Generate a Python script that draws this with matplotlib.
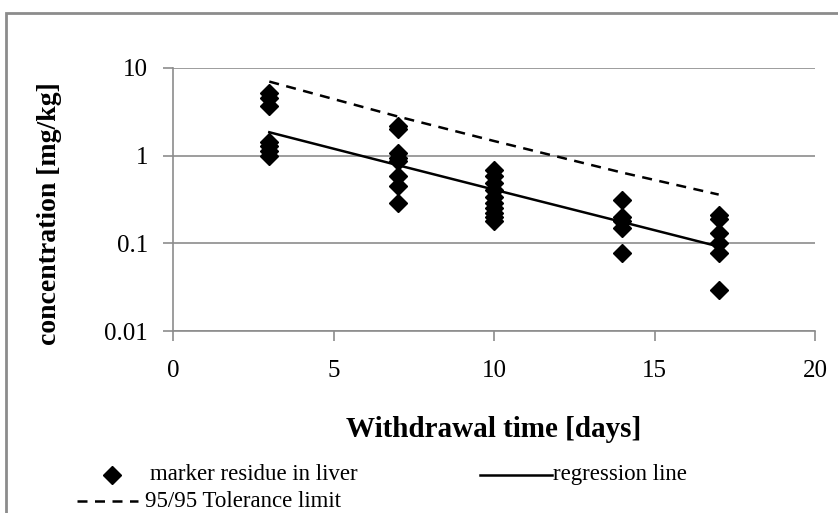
import matplotlib.pyplot as plt
from matplotlib.lines import Line2D
from matplotlib.patches import Rectangle

plt.rcParams["font.family"] = ["Liberation Serif", "DejaVu Serif"]

# measured residues (withdrawal day, concentration mg/kg)
days_3 = [5.2, 4.6, 3.7, 1.45, 1.28, 1.12, 0.98]
days_7 = [2.2, 2.0, 1.07, 0.95, 0.86, 0.58, 0.45, 0.29]
days_10 = [0.68, 0.58, 0.49, 0.41, 0.34, 0.29, 0.25, 0.22, 0.2, 0.18]
days_14 = [0.31, 0.2, 0.18, 0.15, 0.078]
days_17 = [0.21, 0.19, 0.13, 0.1, 0.078, 0.029]

line_days = [3, 7, 10, 14, 17]
regression = [1.85, 0.78, 0.41, 0.175, 0.092]
tolerance = [7.0, 2.8, 1.47, 0.64, 0.36]

GREY = "#8c8c8c"
W, H = 838, 513


def fx(px):
    return px / W


def fy(py):
    return 1 - py / H


fig = plt.figure(figsize=(W / 100, H / 100), dpi=100)
ax = fig.add_axes([fx(173), fy(331), (815 - 173) / W, (331 - 68) / H])

# scatter
xs, ys = [], []
for d, vals in zip(line_days, [days_3, days_7, days_10, days_14, days_17]):
    xs += [d] * len(vals)
    ys += vals
ax.plot(xs, ys, linestyle="none", marker="D", markersize=9.5, color="black", zorder=3)

ax.plot(line_days, regression, color="black", linewidth=1.8, zorder=4)
ax.plot(line_days, tolerance, color="black", linewidth=1.8, dashes=(4, 3), zorder=4)

ax.set_yscale("log")
ax.set_ylim(0.01, 10)
ax.set_xlim(0, 20)
ax.set_xticks([0, 5, 10, 15, 20])
ax.set_yticks([0.01, 0.1, 1, 10])
ax.set_yticklabels(["0.01", "0.1", "1", "10"])
ax.minorticks_off()
ax.yaxis.grid(True, color=GREY, linewidth=1.2)
ax.set_axisbelow(True)

for s in ["top", "right"]:
    ax.spines[s].set_visible(False)
for s in ["left", "bottom"]:
    ax.spines[s].set_color(GREY)
    ax.spines[s].set_linewidth(1.2)
ax.tick_params(axis="both", colors=GREY, length=7, width=1.2, labelcolor="black",
               labelsize=18)
ax.tick_params(axis="x", pad=14)
ax.tick_params(axis="y", pad=11)

# axis titles
fig.text(fx(50), fy(214), "concentration [mg/kg]", fontsize=20, fontweight="bold",
         rotation=90, ha="center", va="center")
fig.text(fx(494), fy(437), "Withdrawal time [days]", fontsize=21, fontweight="bold",
         ha="center", va="baseline")

# outer frame of the original chart area
fig.add_artist(Rectangle((fx(6), -0.1), 1.2, 0.1 + fy(13), transform=fig.transFigure,
                         fill=False, edgecolor=GREY, linewidth=2))

# legend drawn by hand
fig.add_artist(Line2D([fx(112)], [fy(475)], marker="D", markersize=9, color="black",
                      transform=fig.transFigure))
fig.text(fx(150), fy(480), "marker residue in liver", fontsize=16.5, va="baseline")
fig.add_artist(Line2D([fx(480), fx(552)], [fy(475), fy(475)], color="black", linewidth=1.8,
                      transform=fig.transFigure))
fig.text(fx(553), fy(480), "regression line", fontsize=16.5, va="baseline")
fig.add_artist(Line2D([fx(77), fx(138)], [fy(501), fy(501)], color="black", linewidth=1.8,
                      dashes=(4, 3), transform=fig.transFigure))
fig.text(fx(145), fy(507), "95/95 Tolerance limit", fontsize=16.5, va="baseline")

fig.savefig("out.png", dpi=100)
